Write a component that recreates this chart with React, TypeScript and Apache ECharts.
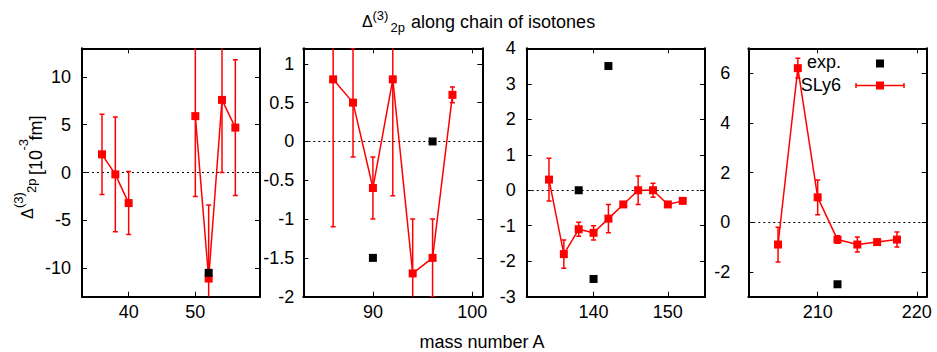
import React, { useEffect, useRef } from "react";
import * as echarts from "echarts";

// Δ(3)2p [10^-3 fm] along chains of isotones, one panel per chain.
// SLy6 values with their uncertainties, and experimental points.
const massA1 = [36, 38, 40, 50, 52, 54, 56];
const sly6A1 = [1.9, -0.2, -3.2, 5.9, -11.1, 7.6, 4.7];
const errA1 = [4.2, 6.0, 3.3, 8.4, 7.7, 7.6, 7.1];
const expMassA1 = [52];
const expA1 = [-10.5];

const massA2 = [86, 88, 90, 92, 94, 96, 98];
const sly6A2 = [0.8, 0.5, -0.6, 0.8, -1.7, -1.5, 0.6];
const errA2 = [1.9, 0.7, 0.4, 1.5, 0.7, 0.5, 0.1];
const expMassA2 = [90, 96];
const expA2 = [-1.5, 0.0];

const massA3 = [134, 136, 138, 140, 142, 144, 146, 148, 150, 152];
const sly6A3 = [0.3, -1.8, -1.1, -1.2, -0.8, -0.4, 0.0, 0.0, -0.4, -0.3];
const errA3 = [0.6, 0.4, 0.2, 0.2, 0.4, 0.05, 0.4, 0.2, 0.05, 0.05];
const expMassA3 = [138, 140, 142];
const expA3 = [0.0, -2.5, 3.5];

const massA4 = [206, 208, 210, 212, 214, 216, 218];
const sly6A4 = [-0.9, 6.2, 1.0, -0.7, -0.9, -0.8, -0.7];
const errA4 = [0.7, 0.4, 0.7, 0.15, 0.3, 0.05, 0.3];
const expMassA4 = [212];
const expA4 = [-2.5];

// Axis ranges and tick values of each panel
const xRanges = [[33, 59.7], [83, 101], [131, 155], [203, 221]];
const xTicks = [[40, 50], [90, 100], [140, 150], [210, 220]];
const yRanges = [[-13, 13], [-2, 1.2], [-3, 4], [-3, 7]];
const yTicks = [
  [-10, -5, 0, 5, 10],
  [-2, -1.5, -1, -0.5, 0, 0.5, 1],
  [-3, -2, -1, 0, 1, 2, 3, 4],
  [-2, 0, 2, 4, 6],
];

const panels = [
  { mass: massA1, sly6: sly6A1, err: errA1, expMass: expMassA1, exp: expA1 },
  { mass: massA2, sly6: sly6A2, err: errA2, expMass: expMassA2, exp: expA2 },
  { mass: massA3, sly6: sly6A3, err: errA3, expMass: expMassA3, exp: expA3 },
  { mass: massA4, sly6: sly6A4, err: errA4, expMass: expMassA4, exp: expA4 },
];

// Frame of each panel in pixels
const PLOT_TOP = 48.3;
const PLOT_HEIGHT = 248.4;
const frames = [
  { left: 82, width: 178, labelMargin: 11 },
  { left: 303.3, width: 179, labelMargin: 9 },
  { left: 526.7, width: 178.3, labelMargin: 11 },
  { left: 748.3, width: 178.4, labelMargin: 18 },
];

const RED = "#ff0000";
const FONT = "'Liberation Sans', Arial, Helvetica, sans-serif";

// Neighbouring isotones (step 2) are joined; larger jumps break the line.
function sly6Line(mass: number[], vals: number[]) {
  const pts: (number | string)[][] = [];
  mass.forEach((m, i) => {
    if (i > 0 && m - mass[i - 1] > 2) pts.push([(m + mass[i - 1]) / 2, "-"]);
    pts.push([m, vals[i]]);
  });
  return pts;
}

function renderErrorBar(params: any, api: any) {
  const x = api.value(0);
  const y = api.value(1);
  const e = api.value(2);
  const cs = params.coordSys;
  const hi = api.coord([x, y + e]);
  const lo = api.coord([x, y - e]);
  const yMin = cs.y;
  const yMax = cs.y + cs.height;
  const cx = hi[0];
  const style = { stroke: RED, lineWidth: 1.5, fill: null };
  const children: any[] = [
    {
      type: "line",
      shape: { x1: cx, y1: Math.max(hi[1], yMin), x2: cx, y2: Math.min(lo[1], yMax) },
      style,
    },
  ];
  if (hi[1] >= yMin - 0.5) {
    children.push({ type: "line", shape: { x1: cx - 2.5, y1: hi[1], x2: cx + 2.5, y2: hi[1] }, style });
  }
  if (lo[1] <= yMax + 0.5) {
    children.push({ type: "line", shape: { x1: cx - 2.5, y1: lo[1], x2: cx + 2.5, y2: lo[1] }, style });
  }
  return { type: "group", children };
}

function txt(text: string, x: number, y: number, size: number, align = "left") {
  return {
    type: "text",
    x,
    y,
    silent: true,
    style: {
      text,
      fontSize: size,
      fontFamily: FONT,
      fill: "#000",
      align,
      verticalAlign: "middle",
    },
  };
}

function buildOption() {
  const grid: any[] = [];
  const xAxis: any[] = [];
  const yAxis: any[] = [];
  const series: any[] = [];

  const lineStyle = { color: "#000", width: 2 };
  const tickStyle = { color: "#000", width: 1 };

  panels.forEach((p, i) => {
    const f = frames[i];
    grid.push({ left: f.left, top: PLOT_TOP, width: f.width, height: PLOT_HEIGHT, show: false });

    ["bottom", "top"].forEach((pos) => {
      xAxis.push({
        type: "value",
        gridIndex: i,
        position: pos,
        min: xRanges[i][0],
        max: xRanges[i][1],
        splitLine: { show: false },
        axisLine: { show: true, onZero: false, lineStyle },
        axisTick: { show: true, inside: true, length: 5, lineStyle: tickStyle, customValues: xTicks[i] },
        axisLabel: {
          show: pos === "bottom",
          customValues: xTicks[i],
          margin: 6,
          fontSize: 18,
          fontFamily: FONT,
          color: "#000",
        },
      });
    });

    ["left", "right"].forEach((pos) => {
      yAxis.push({
        type: "value",
        gridIndex: i,
        position: pos,
        min: yRanges[i][0],
        max: yRanges[i][1],
        splitLine: { show: false },
        axisLine: { show: true, onZero: false, lineStyle },
        axisTick: { show: true, inside: true, length: 5, lineStyle: tickStyle, customValues: yTicks[i] },
        axisLabel: {
          show: pos === "left",
          customValues: yTicks[i],
          margin: f.labelMargin,
          fontSize: 18,
          fontFamily: FONT,
          color: "#000",
        },
      });
    });

    const xi = 2 * i;
    const yi = 2 * i;

    series.push({
      type: "custom",
      name: "SLy6 error",
      xAxisIndex: xi,
      yAxisIndex: yi,
      renderItem: renderErrorBar,
      data: p.mass.map((m, k) => [m, p.sly6[k], p.err[k]]),
      encode: { x: 0, y: 1 },
      clip: true,
      silent: true,
      z: 2,
    });

    series.push({
      type: "line",
      name: "SLy6",
      xAxisIndex: xi,
      yAxisIndex: yi,
      data: sly6Line(p.mass, p.sly6),
      connectNulls: false,
      symbol: "rect",
      symbolSize: 8,
      showSymbol: true,
      itemStyle: { color: RED, opacity: 1 },
      lineStyle: { color: RED, width: 1.5 },
      emphasis: { disabled: true },
      silent: true,
      z: 3,
      markLine: {
        silent: true,
        symbol: ["none", "none"],
        label: { show: false },
        lineStyle: { color: "#000", width: 1, type: [2, 3] },
        emphasis: { disabled: true },
        data: [{ yAxis: 0 }],
        z: 1,
      },
    });

    series.push({
      type: "scatter",
      name: "exp.",
      xAxisIndex: xi,
      yAxisIndex: yi,
      data: p.expMass.map((m, k) => [m, p.exp[k]]),
      symbol: "rect",
      symbolSize: 8,
      itemStyle: { color: "#000", opacity: 1 },
      emphasis: { disabled: true },
      silent: true,
      z: 4,
    });
  });

  const graphic: any[] = [
    // title
    txt("Δ", 362, 21.5, 16),
    txt("(3)", 372.5, 15.5, 13),
    txt("2p", 390.5, 27, 13),
    txt("along chain of isotones", 411, 21.5, 18),
    // x axis name
    txt("mass number A", 482, 342, 18, "center"),
    // y axis name, rotated to read upwards
    {
      type: "group",
      x: 0,
      y: 219,
      rotation: Math.PI / 2,
      silent: true,
      children: [
        txt("Δ", 0, 27.5, 16),
        txt("(3)", 11, 18, 13),
        txt("2p", 26, 31.5, 13),
        txt("[10", 44, 35.8, 18),
        txt("-3", 68.5, 23.5, 13),
        txt("fm]", 78.5, 35.8, 18),
      ],
    },
    // key
    txt("exp.", 841, 62, 18, "right"),
    {
      type: "rect",
      silent: true,
      shape: { x: 876, y: 59.5, width: 8, height: 8 },
      style: { fill: "#000" },
    },
    txt("SLy6", 841, 85, 18, "right"),
    {
      type: "line",
      silent: true,
      shape: { x1: 856, y1: 85.5, x2: 904, y2: 85.5 },
      style: { stroke: RED, lineWidth: 1.5 },
    },
    {
      type: "line",
      silent: true,
      shape: { x1: 856, y1: 83, x2: 856, y2: 88 },
      style: { stroke: RED, lineWidth: 1.5 },
    },
    {
      type: "line",
      silent: true,
      shape: { x1: 904, y1: 83, x2: 904, y2: 88 },
      style: { stroke: RED, lineWidth: 1.5 },
    },
    {
      type: "rect",
      silent: true,
      shape: { x: 876, y: 81.5, width: 8, height: 8 },
      style: { fill: RED },
    },
  ];

  return {
    animation: false,
    backgroundColor: "#fff",
    grid,
    xAxis,
    yAxis,
    series,
    graphic,
  };
}

export default function App() {
  const ref = useRef<HTMLDivElement>(null);
  useEffect(() => {
    if (!ref.current) return;
    const chart = echarts.init(ref.current, null, { renderer: "svg" });
    chart.setOption(buildOption() as any);
    return () => chart.dispose();
  }, []);
  return (
    <div
      ref={ref}
      style={{ position: "fixed", left: 0, top: 0, width: 937, height: 352, background: "#fff" }}
    />
  );
}
